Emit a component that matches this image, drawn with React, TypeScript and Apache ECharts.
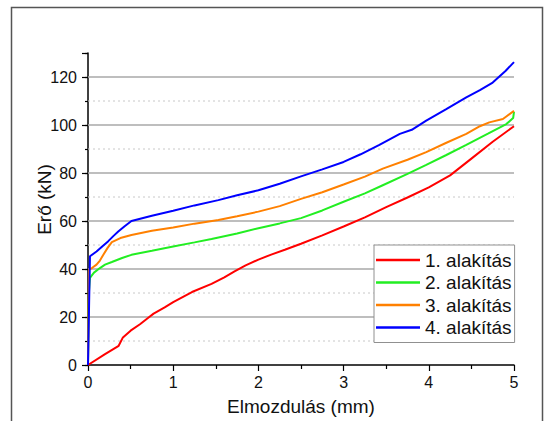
import React, { useEffect, useRef } from "react";
import * as echarts from "echarts";

const seriesNames = ["1. alakítás", "2. alakítás", "3. alakítás", "4. alakítás"];
const seriesColors = ["#ff0000", "#22ee22", "#ff8000", "#0000ff"];

const xMin = 0;
const xMax = 5;
const majorGrid = [20, 40, 60, 80, 100, 120];
const minorGrid = [10, 30, 50, 70, 90, 110];

const x1 = [0, 0.2, 0.36, 0.41, 0.5, 0.61, 0.7, 0.77, 0.9, 1.0, 1.22, 1.45, 1.6, 1.72, 1.85, 2.0, 2.15, 2.31, 2.5, 2.75, 3.0, 3.25, 3.5, 3.75, 4.0, 4.25, 4.5, 4.75, 5.0];
const y1 = [0, 4.5, 8.0, 11.5, 14.3, 17, 19.5, 21.4, 24, 26.2, 30.4, 33.8, 36.5, 39, 41.5, 43.9, 46, 48, 50.5, 54, 57.7, 61.5, 65.8, 69.8, 74, 79, 86, 93, 99.5];

const x2 = [0, 0.01, 0.023, 0.07, 0.14, 0.2, 0.28, 0.4, 0.51, 0.75, 1.0, 1.25, 1.45, 1.75, 2.0, 2.25, 2.5, 2.75, 3.0, 3.25, 3.46, 3.75, 3.97, 4.2, 4.44, 4.7, 4.91, 4.99, 5.0];
const y2 = [0, 30, 36.3, 38.5, 40.4, 41.8, 42.9, 44.6, 45.9, 47.6, 49.4, 51.1, 52.5, 54.8, 57, 59, 61.2, 64.4, 68, 71.5, 74.9, 79.6, 83.4, 87.4, 91.7, 96.5, 100.4, 102.9, 105.5];

const x3 = [0, 0.012, 0.05, 0.1, 0.14, 0.18, 0.23, 0.28, 0.38, 0.51, 0.75, 1.0, 1.25, 1.53, 1.75, 2.0, 2.25, 2.5, 2.75, 3.0, 3.25, 3.46, 3.75, 3.97, 4.2, 4.44, 4.6, 4.71, 4.87, 5.0];
const y3 = [0, 39.7, 40.5, 41.8, 43.5, 45.9, 48.8, 51.2, 52.9, 54.2, 55.9, 57.3, 58.9, 60.4, 62, 63.9, 66.2, 69.2, 72, 75.2, 78.5, 81.8, 85.5, 88.7, 92.5, 96.3, 99.5, 101.1, 102.5, 105.9];

const x4 = [0, 0.023, 0.1, 0.17, 0.235, 0.3, 0.355, 0.43, 0.51, 0.75, 1.0, 1.25, 1.53, 1.75, 2.0, 2.25, 2.5, 2.75, 3.0, 3.2, 3.42, 3.66, 3.8, 3.97, 4.2, 4.44, 4.6, 4.75, 4.9, 5.0];
const y4 = [0, 45.3, 47.3, 49.5, 51.5, 53.8, 55.6, 57.8, 60, 62.2, 64.3, 66.5, 68.7, 70.7, 72.8, 75.5, 78.6, 81.5, 84.6, 87.8, 91.7, 96.3, 98, 101.8, 106.5, 111.5, 114.5, 117.7, 122.5, 126.2];

const xs = [x1, x2, x3, x4];
const ys = [y1, y2, y3, y4];

const FONT = "'Liberation Sans', Arial, sans-serif";

export default function App() {
  const ref = useRef<HTMLDivElement>(null);
  useEffect(() => {
    if (!ref.current) return;
    const chart = echarts.init(ref.current, undefined, { renderer: "svg" });
    const gridLine = (v: number, major: boolean) => ({
      name: (major ? "major-" : "minor-") + v,
      type: "line",
      yAxisIndex: 1,
      data: [
        [xMin, v],
        [xMax, v],
      ],
      symbol: "none",
      showSymbol: false,
      silent: true,
      lineStyle: major
        ? { color: "#a8a8a8", width: 1.3, type: "solid" }
        : { color: "#c8c8c8", width: 1, type: [2, 3] },
      emphasis: { disabled: true },
      z: major ? 1 : 0,
    });
    chart.setOption({
      animation: false,
      backgroundColor: "#ffffff",
      textStyle: { fontFamily: FONT },
      graphic: [
        {
          type: "rect",
          shape: { x: 11.5, y: 7.5, width: 531, height: 430 },
          style: { fill: "none", stroke: "#555555", lineWidth: 1.5 },
          silent: true,
          z: 100,
        },
      ],
      grid: { left: 88, right: 33, top: 53, bottom: 53.5 },
      legend: {
        left: 374,
        top: 245,
        orient: "vertical",
        align: "left",
        data: seriesNames,
        icon: "rect",
        itemWidth: 44,
        itemHeight: 2.5,
        itemGap: 2.5,
        padding: [5, 3, 5, 2],
        borderColor: "#909090",
        borderWidth: 1,
        backgroundColor: "#ffffff",
        textStyle: { fontFamily: FONT, fontSize: 19, color: "#111", lineHeight: 20 },
      },
      xAxis: {
        type: "value",
        min: xMin,
        max: xMax,
        interval: 1,
        name: "Elmozdulás (mm)",
        nameLocation: "middle",
        nameGap: 32,
        nameTextStyle: { fontFamily: FONT, fontSize: 19, color: "#111" },
        axisLine: { show: true, lineStyle: { color: "#000", width: 1.5 } },
        axisTick: { show: true, length: 6, lineStyle: { color: "#000", width: 1.2 } },
        minorTick: { show: true, splitNumber: 2, length: 4, lineStyle: { color: "#000", width: 1.2 } },
        axisLabel: { fontFamily: FONT, fontSize: 16, color: "#111", margin: 9 },
        splitLine: { show: false },
      },
      yAxis: [
        {
          type: "value",
          min: 0,
          max: 130,
          interval: 10,
          position: "left",
          axisLine: { show: false },
          axisTick: { show: true, length: 3, lineStyle: { color: "#000", width: 1.2 } },
          axisLabel: { show: false },
          splitLine: { show: false },
        },
        {
          type: "value",
          min: 0,
          max: 130,
          interval: 20,
          position: "left",
          name: "Erő (kN)",
          nameLocation: "middle",
          nameGap: 34,
          nameMoveOverlap: false,
          nameTextStyle: { fontFamily: FONT, fontSize: 19, color: "#111", padding: [0, 0, 0, 19] },
          axisLine: { show: true, lineStyle: { color: "#000", width: 1.5 } },
          axisTick: { show: true, length: 6, lineStyle: { color: "#000", width: 1.2 } },
          axisLabel: {
            fontFamily: FONT,
            fontSize: 16,
            color: "#111",
            margin: 11,
            formatter: (v: number) => (v > 125 ? "" : String(v)),
          },
          splitLine: { show: false },
        },
      ],
      series: [
        ...minorGrid.map((v) => gridLine(v, false)),
        ...majorGrid.map((v) => gridLine(v, true)),
        ...seriesNames.map((name, i) => ({
          name,
          type: "line",
          yAxisIndex: 1,
          data: xs[i].map((x, j) => [x, ys[i][j]]),
          showSymbol: false,
          symbol: "none",
          lineStyle: { color: seriesColors[i], width: 2 },
          itemStyle: { color: seriesColors[i] },
          z: 3 + i,
        })),
      ],
    });
    return () => chart.dispose();
  }, []);
  return (
    <div
      ref={ref}
      style={{ position: "fixed", left: 0, top: 0, width: 547, height: 421 }}
    />
  );
}
